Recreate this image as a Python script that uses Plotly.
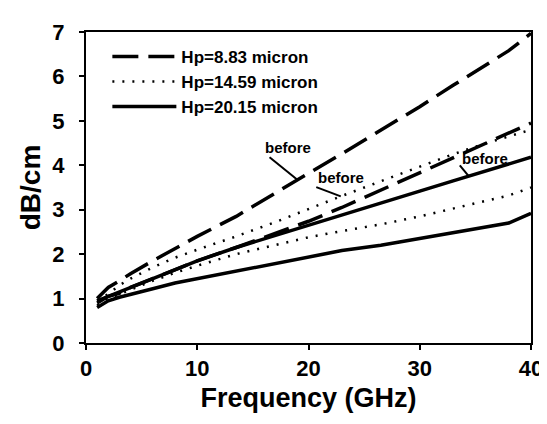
import numpy as np
import plotly.graph_objects as go

freq = [1, 2, 3, 4, 6, 8, 10, 13.5, 17, 20, 23, 26.5, 30, 33, 36, 38, 40]

# Hp = 8.83 micron
hp883_before = [1.00, 1.25, 1.40, 1.56, 1.85, 2.12, 2.40, 2.85, 3.38, 3.82, 4.26, 4.78, 5.32, 5.80, 6.26, 6.58, 6.97]
hp883_after = [0.90, 1.05, 1.12, 1.25, 1.45, 1.65, 1.85, 2.15, 2.46, 2.74, 3.05, 3.44, 3.85, 4.18, 4.50, 4.72, 4.95]
# Hp = 14.59 micron
hp1459_before = [0.95, 1.10, 1.30, 1.45, 1.70, 1.92, 2.10, 2.40, 2.72, 3.02, 3.31, 3.64, 3.97, 4.25, 4.50, 4.65, 4.80]
hp1459_after = [0.85, 1.00, 1.10, 1.20, 1.40, 1.58, 1.74, 2.00, 2.20, 2.38, 2.52, 2.67, 2.85, 3.03, 3.20, 3.32, 3.50]
# Hp = 20.15 micron
hp2015_before = [0.95, 1.05, 1.15, 1.25, 1.45, 1.65, 1.85, 2.15, 2.42, 2.66, 2.90, 3.15, 3.42, 3.65, 3.88, 4.02, 4.18]
hp2015_after = [0.80, 0.95, 1.03, 1.10, 1.22, 1.35, 1.45, 1.62, 1.80, 1.95, 2.08, 2.20, 2.35, 2.48, 2.60, 2.70, 2.92]

legend_names = ["Hp=8.83 micron", "Hp=14.59 micron", "Hp=20.15 micron"]

x_ticks = [0, 10, 20, 30, 40]
y_ticks = [0, 1, 2, 3, 4, 5, 6, 7]

# "before" labels: text position (freq, dB/cm), leader start, leader target freq
label_text = ["before", "before", "before"]
label_pos = [(18.2, 4.40), (22.9, 3.73), (35.9, 4.16)]
leader_start = [(16.5, 4.18), (20.7, 3.51), (33.6, 4.00)]
leader_target_f = [19.0, 22.9, 34.4]
leader_series = [hp883_before, hp1459_before, hp2015_before]

FONT = "Liberation Sans, Arial, sans-serif"

styles = [
    dict(color="black", width=3.5, dash="26px,10px"),
    dict(color="black", width=2.5, dash="2px,8px"),
    dict(color="black", width=3.5, dash="solid"),
]
pairs = [(hp883_before, hp883_after), (hp1459_before, hp1459_after), (hp2015_before, hp2015_after)]

fig = go.Figure()
for i, (b, a) in enumerate(pairs):
    fig.add_trace(go.Scatter(x=freq, y=b, mode="lines", line=styles[i], name=legend_names[i],
                             legendgroup=str(i), showlegend=True))
    fig.add_trace(go.Scatter(x=freq, y=a, mode="lines", line=styles[i], name=legend_names[i],
                             legendgroup=str(i), showlegend=False))

for i in range(3):
    tf = leader_target_f[i]
    ty = float(np.interp(tf, freq, leader_series[i]))
    sx, sy = leader_start[i]
    fig.add_shape(type="line", x0=sx, y0=sy, x1=tf, y1=ty, xref="x", yref="y",
                  line=dict(color="black", width=2))
    fig.add_annotation(x=label_pos[i][0], y=label_pos[i][1], text="<b>%s</b>" % label_text[i],
                       showarrow=False, font=dict(family=FONT, size=15, color="black"))

fig.update_layout(
    width=547, height=424,
    margin=dict(l=78, r=15, t=20, b=89),
    paper_bgcolor="white", plot_bgcolor="white",
    font=dict(family=FONT, color="black"),
    showlegend=True,
    legend=dict(x=0.048, y=0.978, xanchor="left", yanchor="top", bgcolor="rgba(0,0,0,0)",
                font=dict(family=FONT, size=17, color="black", weight="bold"),
                itemwidth=64, tracegroupgap=0),
    xaxis=dict(range=[0, 40], tickvals=x_ticks, showgrid=False, zeroline=False,
               showline=True, linecolor="black", linewidth=2, mirror=True,
               ticks="outside", ticklen=5, tickwidth=1.5, tickcolor="black",
               tickfont=dict(family=FONT, size=22, color="black", weight="bold"),
               title=dict(text="Frequency (GHz)", font=dict(family=FONT, size=27, color="black", weight="bold"), standoff=8)),
    yaxis=dict(range=[0, 7], tickvals=y_ticks, showgrid=False, zeroline=False,
               showline=True, linecolor="black", linewidth=2, mirror=True,
               ticks="outside", ticklen=5, tickwidth=1.5, tickcolor="black",
               ticklabelstandoff=10,
               tickfont=dict(family=FONT, size=22, color="black", weight="bold"),
               title=dict(text="dB/cm", font=dict(family=FONT, size=28, color="black", weight="bold"), standoff=4)),
)

fig.write_html("out.html")
